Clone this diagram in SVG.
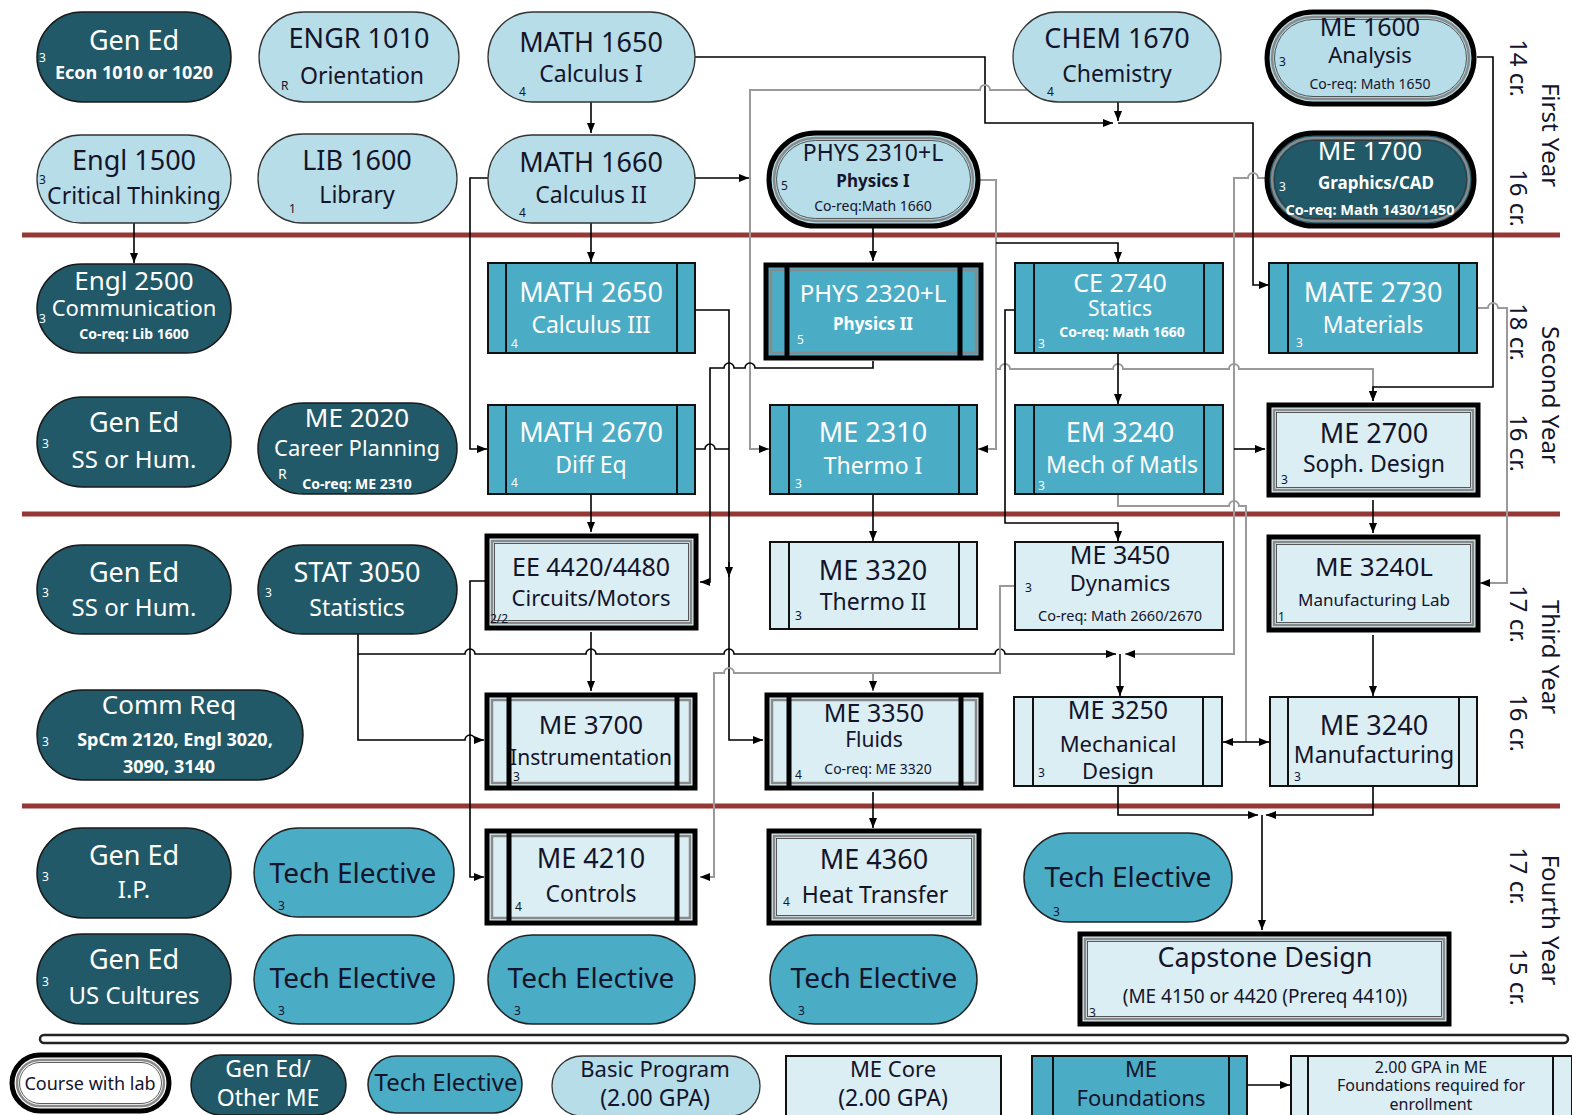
<svg xmlns="http://www.w3.org/2000/svg" width="1572" height="1115" viewBox="0 0 1572 1115">
<style>
text{font-family:'Noto Sans','DejaVu Sans',sans-serif;text-anchor:middle;fill:#14142b}
.w{fill:#fff}
.t{font-size:27px}
.s{font-size:23px}
.b{font-weight:bold}
.x{font-size:15px}
.n{font-size:12px;text-anchor:start}
.dk{fill:#215968;stroke:#1a1a1a;stroke-width:1.5}
.bp{fill:#b6dde8;stroke:#333;stroke-width:1.3}
.te{fill:#4bacc6;stroke:#222;stroke-width:1.5}
.fd{fill:#4bacc6;stroke:#111;stroke-width:2}
.co{fill:#daeef3;stroke:#111;stroke-width:2}
.lo{stroke:#000;stroke-width:5}
.li{fill:none;stroke:#8a8a8a;stroke-width:2.5}
.lt{fill:none;stroke:#333;stroke-width:0.8}
.bar{fill:none;stroke:#111;stroke-width:2}
.tb{fill:none;stroke:#000;stroke-width:5}
.c{fill:none;stroke:#000;stroke-width:1.6}
.g{fill:none;stroke:#9a9a9a;stroke-width:2}
.red{stroke:#953735;stroke-width:5}
.yr{font-size:24px}
</style>
<defs>
<marker id="a" viewBox="0 0 10 10" refX="10" refY="5" markerWidth="10" markerHeight="10" orient="auto" markerUnits="userSpaceOnUse"><path d="M0,1 L10,5 L0,9 z" fill="#000"/></marker>
</defs>
<rect width="1572" height="1115" fill="#fff"/>
<g id="separators">
<line class="red" x1="22" y1="235" x2="1560" y2="235"/>
<line class="red" x1="22" y1="514" x2="1560" y2="514"/>
<line class="red" x1="22" y1="806" x2="1560" y2="806"/>
<rect x="40" y="1035" width="1528" height="8" rx="4" fill="#fff" stroke="#222" stroke-width="2.5"/>
</g>
<g id="connectors">
<path class="c" d="M591,102V133" marker-end="url(#a)"/>
<path class="c" d="M591,223V262" marker-end="url(#a)"/>
<path class="c" d="M134,223V263" marker-end="url(#a)"/>
<path class="c" d="M695,57H985V123H1113" marker-end="url(#a)"/>
<path class="c" d="M1118,102V121" marker-end="url(#a)"/>
<path class="c" d="M1118,123H1253V285H1269" marker-end="url(#a)"/>
<path class="g" d="M1027,90H990A5,5 0 0 0 980,90H750V449H769" marker-end="url(#a)"/>
<path class="c" d="M695,178H749" marker-end="url(#a)"/>
<path class="c" d="M488,178H470V449H487" marker-end="url(#a)"/>
<path class="c" d="M873,228V261" marker-end="url(#a)"/>
<path class="g" d="M980,180H996V449H978" marker-end="url(#a)"/>
<path class="c" d="M996,243H1118V262" marker-end="url(#a)"/>
<path class="g" d="M996,369H1000A5,5 0 0 1 1010,369H1113A5,5 0 0 1 1123,369H1229A5,5 0 0 1 1239,369H1373V401" marker-end="url(#a)"/>
<path class="c" d="M1477,57H1493V387H1373V401" marker-end="url(#a)"/>
<path class="g" d="M1477,308H1488A5,5 0 0 1 1498,308H1507V583H1480" marker-end="url(#a)"/>
<path class="g" d="M1265,178H1258A5,5 0 0 0 1248,178H1234V654H1125" marker-end="url(#a)"/>
<path class="c" d="M1234,449H1265" marker-end="url(#a)"/>
<path class="g" d="M1118,494V506H1229A5,5 0 0 1 1239,506H1246V742"/>
<path class="c" d="M1246,742H1223" marker-end="url(#a)"/>
<path class="c" d="M1246,742H1269" marker-end="url(#a)"/>
<path class="c" d="M695,310H729V740H763" marker-end="url(#a)"/>
<path class="c" d="M729,562V577" marker-end="url(#a)"/>
<path class="c" d="M873,361V368H755A5,5 0 0 0 745,368H734A5,5 0 0 0 724,368H710V582H700" marker-end="url(#a)"/>
<path class="c" d="M695,449H705A5,5 0 0 1 715,449H729"/>
<path class="c" d="M591,494V532" marker-end="url(#a)"/>
<path class="c" d="M873,494V541" marker-end="url(#a)"/>
<path class="c" d="M1118,353V404" marker-end="url(#a)"/>
<path class="c" d="M1015,310H1005V523H1118V541" marker-end="url(#a)"/>
<path class="c" d="M1373,500V533" marker-end="url(#a)"/>
<path class="c" d="M1373,635V696" marker-end="url(#a)"/>
<path class="c" d="M591,632V691" marker-end="url(#a)"/>
<path class="c" d="M358,634V654H465A5,5 0 0 1 475,654H586A5,5 0 0 1 596,654H724A5,5 0 0 1 734,654H995A5,5 0 0 1 1005,654H1116" marker-end="url(#a)"/>
<path class="c" d="M358,654V740H465A5,5 0 0 1 475,740H484" marker-end="url(#a)"/>
<path class="c" d="M1120,654V696" marker-end="url(#a)"/>
<path class="g" d="M1015,586H1000V673H734A5,5 0 0 0 724,673H714V877H700" marker-end="url(#a)"/>
<path class="g" d="M873,673V691" marker-end="url(#a)"/>
<path class="c" d="M485,581H470V877H484" marker-end="url(#a)"/>
<path class="c" d="M873,792V828" marker-end="url(#a)"/>
<path class="c" d="M1118,787V815H1258" marker-end="url(#a)"/>
<path class="c" d="M1373,787V815H1266" marker-end="url(#a)"/>
<path class="c" d="M1262,815V930" marker-end="url(#a)"/>
<path class="c" d="M1247,1085H1290" marker-end="url(#a)"/>
</g>
<g id="gened-econ"><rect class="dk" x="37" y="12" width="194" height="90" rx="45"/><text class="t w" x="134" y="50">Gen Ed</text><text class="b w" x="134" y="79" font-size="18">Econ 1010 or 1020</text><text class="n w" x="39" y="62">3</text></g>
<g id="engr1010"><rect class="bp" x="259" y="12" width="200" height="90" rx="45"/><text class="t" x="359" y="48">ENGR 1010</text><text class="s" x="362" y="84">Orientation</text><text class="n" x="281" y="90">R</text></g>
<g id="math1650"><rect class="bp" x="488" y="12" width="207" height="90" rx="45"/><text class="t" x="591" y="52">MATH 1650</text><text class="s" x="591" y="82">Calculus I</text><text class="n" x="519" y="96">4</text></g>
<g id="chem1670"><rect class="bp" x="1013" y="12" width="208" height="90" rx="45"/><text class="t" x="1117" y="48">CHEM 1670</text><text class="s" x="1117" y="82">Chemistry</text><text class="n" x="1047" y="96">4</text></g>
<g id="me1600"><rect class="bp lo" x="1267" y="12" width="207" height="92" rx="46"/><rect class="li" x="1272" y="17" width="197" height="82" rx="41"/><rect class="lt" x="1274.5" y="19.5" width="192" height="77" rx="38.5"/><text x="1370" y="36" font-size="25">ME 1600</text><text x="1370" y="63" font-size="22">Analysis</text><text x="1370" y="89" font-size="14">Co-req: Math 1650</text><text class="n" x="1279" y="66">3</text></g>
<g id="engl1500"><rect class="bp" x="37" y="135" width="194" height="88" rx="44"/><text class="t" x="134" y="170">Engl 1500</text><text class="s" x="134" y="204">Critical Thinking</text><text class="n" x="39" y="184">3</text></g>
<g id="lib1600"><rect class="bp" x="258" y="134" width="199" height="89" rx="44.5"/><text class="t" x="357" y="170">LIB 1600</text><text class="s" x="357" y="203">Library</text><text class="n" x="289" y="213">1</text></g>
<g id="math1660"><rect class="bp" x="488" y="135" width="207" height="88" rx="44"/><text class="t" x="591" y="172">MATH 1660</text><text class="s" x="591" y="203">Calculus II</text><text class="n" x="519" y="217">4</text></g>
<g id="phys2310"><rect class="bp lo" x="769" y="133" width="209" height="93" rx="46.5"/><rect class="li" x="774" y="138" width="199" height="83" rx="41.5"/><rect class="lt" x="776.5" y="140.5" width="194" height="78" rx="39"/><text x="873" y="161" font-size="23">PHYS 2310+L</text><text class="b" x="873" y="187" font-size="17">Physics I</text><text x="873" y="211" font-size="14">Co-req:Math 1660</text><text class="n" x="781" y="190" font-size="14">5</text></g>
<g id="me1700"><rect class="dk lo" x="1267" y="133" width="207" height="93" rx="46.5"/><rect class="li" x="1272" y="138" width="197" height="83" rx="41.5"/><rect class="lt" x="1274.5" y="140.5" width="192" height="78" rx="39"/><text class="w" x="1370" y="160" font-size="26">ME 1700</text><text class="b w" x="1376" y="189" font-size="17">Graphics/CAD</text><text class="b w" x="1370" y="215" font-size="14.5">Co-req: Math 1430/1450</text><text class="n w" x="1279" y="191" font-size="14">3</text></g>
<g id="engl2500"><rect class="dk" x="37" y="264" width="194" height="89" rx="44.5"/><text class="w" x="134" y="290" font-size="26">Engl 2500</text><text class="w" x="134" y="316" font-size="22">Communication</text><text class="b w" x="134" y="339" font-size="14">Co-req: Lib 1600</text><text class="n w" x="39" y="323">3</text></g>
<g id="math2650"><rect class="fd" x="488" y="263" width="207" height="90"/><path class="bar" d="M506,263V353M677,263V353"/><text class="t w" x="591" y="302">MATH 2650</text><text class="s w" x="591" y="333">Calculus III</text><text class="n w" x="511" y="348">4</text></g>
<g id="phys2320"><rect class="fd lo" x="766" y="265" width="215" height="93"/><rect class="li" x="771" y="270" width="205" height="83"/><path class="tb" d="M787,266V357M960,266V357"/><text class="w" x="873" y="302" font-size="24">PHYS 2320+L</text><text class="b w" x="873" y="330" font-size="17">Physics II</text><text class="n w" x="797" y="344" font-size="14">5</text></g>
<g id="ce2740"><rect class="fd" x="1015" y="263" width="208" height="90"/><path class="bar" d="M1034,263V353M1204,263V353"/><text class="w" x="1120" y="292" font-size="25">CE 2740</text><text class="w" x="1120" y="316" font-size="21">Statics</text><text class="b w" x="1122" y="337" font-size="14">Co-req: Math 1660</text><text class="n w" x="1038" y="348">3</text></g>
<g id="mate2730"><rect class="fd" x="1269" y="263" width="208" height="90"/><path class="bar" d="M1288,263V353M1459,263V353"/><text class="t w" x="1373" y="302">MATE 2730</text><text class="s w" x="1373" y="333">Materials</text><text class="n w" x="1296" y="347">3</text></g>
<g id="gened-ss1"><rect class="dk" x="37" y="397" width="194" height="90" rx="45"/><text class="t w" x="134" y="432">Gen Ed</text><text class="w" x="134" y="468" font-size="24">SS or Hum.</text><text class="n w" x="42" y="448">3</text></g>
<g id="me2020"><rect class="dk" x="258" y="403" width="199" height="91" rx="45.5"/><text class="w" x="357" y="427" font-size="26">ME 2020</text><text class="w" x="357" y="456" font-size="22">Career Planning</text><text class="w" x="278" y="479" font-size="14" style="text-anchor:start">R</text><text class="b w" x="357" y="489" font-size="14">Co-req: ME 2310</text></g>
<g id="math2670"><rect class="fd" x="488" y="405" width="207" height="89"/><path class="bar" d="M506,405V494M677,405V494"/><text class="t w" x="591" y="442">MATH 2670</text><text class="s w" x="591" y="473">Diff Eq</text><text class="n w" x="511" y="487">4</text></g>
<g id="me2310"><rect class="fd" x="770" y="405" width="207" height="89"/><path class="bar" d="M789,405V494M959,405V494"/><text class="t w" x="873" y="442">ME 2310</text><text class="s w" x="873" y="474">Thermo I</text><text class="n w" x="795" y="488">3</text></g>
<g id="em3240"><rect class="fd" x="1015" y="405" width="208" height="89"/><path class="bar" d="M1034,405V494M1204,405V494"/><text class="t w" x="1120" y="442">EM 3240</text><text class="s w" x="1122" y="473">Mech of Matls</text><text class="n w" x="1038" y="490">3</text></g>
<g id="me2700"><rect class="co lo" x="1269" y="405" width="209" height="90"/><rect class="li" x="1274" y="410" width="199" height="80"/><rect class="lt" x="1276.5" y="412.5" width="194" height="75"/><text class="t" x="1374" y="443">ME 2700</text><text class="s" x="1374" y="472">Soph. Design</text><text class="n" x="1281" y="484">3</text></g>
<g id="gened-ss2"><rect class="dk" x="37" y="545" width="194" height="89" rx="44.5"/><text class="t w" x="134" y="582">Gen Ed</text><text class="w" x="134" y="616" font-size="24">SS or Hum.</text><text class="n w" x="42" y="597">3</text></g>
<g id="stat3050"><rect class="dk" x="258" y="545" width="199" height="89" rx="44.5"/><text class="t w" x="357" y="582">STAT 3050</text><text class="s w" x="357" y="616">Statistics</text><text class="n w" x="265" y="597">3</text></g>
<g id="ee4420"><rect class="co lo" x="487" y="536" width="209" height="92"/><rect class="li" x="492" y="541" width="199" height="82"/><rect class="lt" x="494.5" y="543.5" width="194" height="77"/><text x="591" y="576" font-size="25">EE 4420/4480</text><text x="591" y="606" font-size="22">Circuits/Motors</text><text class="n" x="490" y="623">2/2</text></g>
<g id="me3320"><rect class="co" x="770" y="542" width="207" height="87"/><path class="bar" d="M789,542V629M959,542V629"/><text class="t" x="873" y="580">ME 3320</text><text class="s" x="873" y="610">Thermo II</text><text class="n" x="795" y="620">3</text></g>
<g id="me3450"><rect class="co" x="1015" y="542" width="208" height="88"/><text x="1120" y="564" font-size="25">ME 3450</text><text x="1120" y="591" font-size="22">Dynamics</text><text x="1120" y="621" font-size="14.5">Co-req: Math 2660/2670</text><text class="n" x="1025" y="592">3</text></g>
<g id="me3240l"><rect class="co lo" x="1269" y="537" width="209" height="93"/><rect class="li" x="1274" y="542" width="199" height="83"/><rect class="lt" x="1276.5" y="544.5" width="194" height="78"/><text x="1374" y="576" font-size="26">ME 3240L</text><text x="1374" y="606" font-size="17">Manufacturing Lab</text><text class="n" x="1278" y="621">1</text></g>
<g id="commreq"><rect class="dk" x="37" y="690" width="266" height="90" rx="45"/><text class="w" x="169" y="714" font-size="26">Comm Req</text><text class="b w" x="175" y="746" font-size="18">SpCm 2120, Engl 3020,</text><text class="b w" x="169" y="773" font-size="18">3090, 3140</text><text class="n w" x="42" y="746" font-size="14">3</text></g>
<g id="me3700"><rect class="co lo" x="487" y="695" width="208" height="93"/><rect class="li" x="492" y="700" width="198" height="83"/><path class="tb" d="M509,696V787M677,696V787"/><text x="591" y="734" font-size="26">ME 3700</text><text x="591" y="765" font-size="21">Instrumentation</text><text class="n" x="513" y="781">3</text></g>
<g id="me3350"><rect class="co lo" x="767" y="695" width="214" height="93"/><rect class="li" x="772" y="700" width="204" height="83"/><path class="tb" d="M789,696V787M961,696V787"/><text x="874" y="722" font-size="25">ME 3350</text><text x="874" y="747" font-size="21">Fluids</text><text x="878" y="774" font-size="14">Co-req: ME 3320</text><text class="n" x="795" y="779">4</text></g>
<g id="me3250"><rect class="co" x="1014" y="697" width="208" height="89"/><path class="bar" d="M1033,697V786M1203,697V786"/><text x="1118" y="719" font-size="25">ME 3250</text><text x="1118" y="752" font-size="22">Mechanical</text><text x="1118" y="779" font-size="22">Design</text><text class="n" x="1038" y="777">3</text></g>
<g id="me3240"><rect class="co" x="1270" y="697" width="207" height="89"/><path class="bar" d="M1288,697V786M1459,697V786"/><text class="t" x="1374" y="735">ME 3240</text><text class="s" x="1374" y="763">Manufacturing</text><text class="n" x="1294" y="781">3</text></g>
<g id="gened-ip"><rect class="dk" x="37" y="828" width="194" height="90" rx="45"/><text class="t w" x="134" y="865">Gen Ed</text><text class="w" x="134" y="898" font-size="24">I.P.</text><text class="n w" x="42" y="881">3</text></g>
<g id="tech1"><rect class="te" x="254" y="828" width="200" height="89" rx="44.5"/><text x="353" y="883" font-size="28">Tech Elective</text><text class="n" x="278" y="910">3</text></g>
<g id="me4210"><rect class="co lo" x="487" y="831" width="208" height="92"/><rect class="li" x="492" y="836" width="198" height="82"/><path class="tb" d="M509,832V922M677,832V922"/><text class="t" x="591" y="868">ME 4210</text><text class="s" x="591" y="902">Controls</text><text class="n" x="515" y="911">4</text></g>
<g id="me4360"><rect class="co lo" x="769" y="831" width="210" height="92"/><rect class="li" x="774" y="836" width="200" height="82"/><rect class="lt" x="776.5" y="838.5" width="195" height="77"/><text class="t" x="874" y="869">ME 4360</text><text class="s" x="875" y="903">Heat Transfer</text><text class="n" x="783" y="906">4</text></g>
<g id="tech2"><rect class="te" x="1024" y="833" width="208" height="89" rx="44.5"/><text x="1128" y="887" font-size="28">Tech Elective</text><text class="n" x="1053" y="916">3</text></g>
<g id="gened-us"><rect class="dk" x="37" y="934" width="194" height="90" rx="45"/><text class="t w" x="134" y="969">Gen Ed</text><text class="w" x="134" y="1004" font-size="24">US Cultures</text><text class="n w" x="42" y="986">3</text></g>
<g id="tech3"><rect class="te" x="254" y="935" width="200" height="89" rx="44.5"/><text x="353" y="988" font-size="28">Tech Elective</text><text class="n" x="278" y="1015">3</text></g>
<g id="tech4"><rect class="te" x="488" y="935" width="207" height="89" rx="44.5"/><text x="591" y="988" font-size="28">Tech Elective</text><text class="n" x="514" y="1015">3</text></g>
<g id="tech5"><rect class="te" x="770" y="935" width="207" height="89" rx="44.5"/><text x="874" y="988" font-size="28">Tech Elective</text><text class="n" x="798" y="1015">3</text></g>
<g id="capstone"><rect class="co lo" x="1080" y="934" width="369" height="90"/><rect class="li" x="1085" y="939" width="359" height="80"/><rect class="lt" x="1087.5" y="941.5" width="354" height="75"/><text class="t" x="1265" y="967">Capstone Design</text><text x="1265" y="1003" font-size="19">(ME 4150 or 4420 (Prereq 4410))</text><text class="n" x="1089" y="1017">3</text></g>
<g id="year-labels">
<text class="yr" transform="translate(1518,68) rotate(90)" y="8">14 cr.</text>
<text class="yr" transform="translate(1550,135) rotate(90)" y="8" font-size="25">First Year</text>
<text class="yr" transform="translate(1518,198) rotate(90)" y="8">16 cr.</text>
<text class="yr" transform="translate(1518,332) rotate(90)" y="8">18 cr.</text>
<text class="yr" transform="translate(1550,395) rotate(90)" y="8" font-size="25">Second Year</text>
<text class="yr" transform="translate(1518,443) rotate(90)" y="8">16 cr.</text>
<text class="yr" transform="translate(1518,614) rotate(90)" y="8">17 cr.</text>
<text class="yr" transform="translate(1550,657) rotate(90)" y="8" font-size="25">Third Year</text>
<text class="yr" transform="translate(1518,723) rotate(90)" y="8">16 cr.</text>
<text class="yr" transform="translate(1518,876) rotate(90)" y="8">17 cr.</text>
<text class="yr" transform="translate(1550,920) rotate(90)" y="8" font-size="25">Fourth Year</text>
<text class="yr" transform="translate(1518,977) rotate(90)" y="8">15 cr.</text>
</g>
<g id="legend-lab"><rect class="lo" fill="#fff" x="12" y="1055" width="157" height="56" rx="28"/><rect class="li" x="17" y="1060" width="147" height="46" rx="23"/><rect class="lt" x="19.5" y="1062.5" width="142" height="41" rx="20.5"/><text x="90" y="1090" font-size="18">Course with lab</text></g>
<g id="legend-gened"><rect class="dk" x="191" y="1055" width="155" height="60" rx="30"/><text class="w" x="268" y="1077" font-size="23">Gen Ed/</text><text class="w" x="268" y="1106" font-size="23">Other ME</text></g>
<g id="legend-tech"><rect class="te" x="368" y="1056" width="154" height="57" rx="28.5"/><text x="446" y="1091" font-size="24">Tech Elective</text></g>
<g id="legend-basic"><rect class="bp" x="552" y="1056" width="208" height="60" rx="30"/><text x="655" y="1077" font-size="22">Basic Program</text><text x="655" y="1106" font-size="23">(2.00 GPA)</text></g>
<g id="legend-core"><rect class="co" x="786" y="1056" width="215" height="60"/><text x="893" y="1077" font-size="22">ME Core</text><text x="893" y="1106" font-size="23">(2.00 GPA)</text></g>
<g id="legend-foundations"><rect class="fd" x="1032" y="1056" width="215" height="60"/><path class="bar" d="M1053,1056V1116M1229,1056V1116"/><text x="1141" y="1077" font-size="22">ME</text><text x="1141" y="1106" font-size="22">Foundations</text></g>
<g id="legend-gpa"><rect class="co" x="1291" y="1056" width="281" height="62"/><path class="bar" d="M1308,1056V1118M1553,1056V1118"/><text x="1431" y="1073" font-size="16">2.00 GPA in ME</text><text x="1431" y="1091" font-size="16">Foundations required for</text><text x="1431" y="1110" font-size="16">enrollment</text></g>
</svg>
